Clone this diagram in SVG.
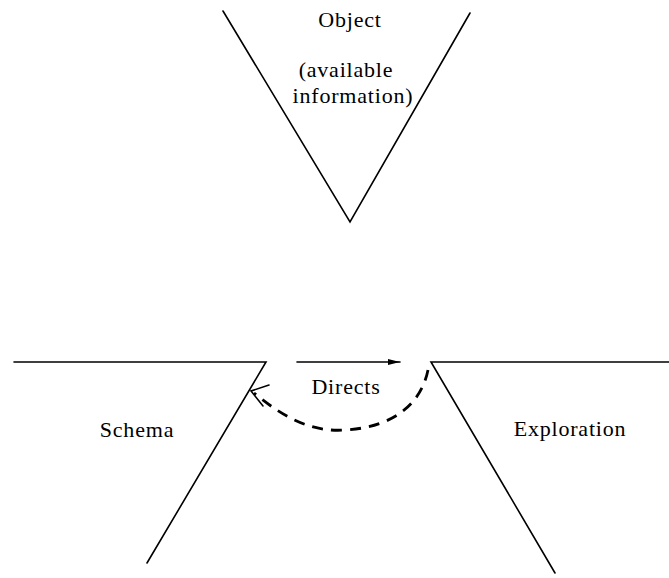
<svg xmlns="http://www.w3.org/2000/svg" width="669" height="578" viewBox="0 0 669 578">
<style>
.ln{fill:none;stroke:#000;stroke-width:1.6;stroke-linecap:round;stroke-linejoin:miter}
.t{font-family:"Liberation Serif","Times New Roman",serif;font-size:22px;fill:#000;text-anchor:middle;letter-spacing:0.8px}
.dash{fill:none;stroke:#000;stroke-width:2.8;stroke-dasharray:11 8}
</style>
<defs>
<marker id="ah" viewBox="0 0 12 6" refX="12" refY="3" markerWidth="12" markerHeight="6" markerUnits="userSpaceOnUse" orient="auto">
<path d="M0,0 L12,3 L0,6 Z" fill="#000"/>
</marker>
</defs>
<rect width="669" height="578" fill="#fff"/>
<g id="object">
<path class="ln" d="M223,11 L350,222 L470,13"/>
<text class="t" x="350" y="27">Object</text>
<text class="t" x="346" y="77">(available</text>
<text class="t" x="353" y="103">information)</text>
</g>
<g id="schema">
<path class="ln" d="M14,362 L266,362 L147,563"/>
<text class="t" x="137" y="437">Schema</text>
</g>
<g id="exploration">
<path class="ln" d="M669,362 L431,362 L555,573"/>
<text class="t" x="570" y="436">Exploration</text>
</g>
<g id="connectors">
<line class="ln" x1="297" y1="362" x2="400" y2="362" marker-end="url(#ah)"/>
<text class="t" x="346" y="394">Directs</text>
<path class="dash" d="M428,370 C422,400 398,427 345,430 C305,433 275,410 254,393"/>
<path class="ln" stroke-width="2.6" d="M269,385 L251,391 L263,406"/>
</g>
</svg>
